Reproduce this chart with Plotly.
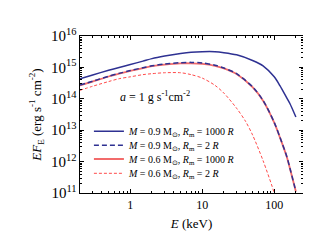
import plotly.graph_objects as go

# Photon energy (keV) sample points
energy = [0.2, 0.3, 0.5, 0.7, 1, 1.5, 2, 3, 5, 7, 10, 15, 20, 30, 50, 70, 100, 120, 150, 165, 200]

# log10(E F_E) values
m09_r1000 = [14.64, 14.76, 14.91, 15.00, 15.09, 15.20, 15.28, 15.36, 15.44, 15.48, 15.50, 15.50, 15.47, 15.40, 15.22, 15.05, 14.70, 14.42, 14.02, 13.85, 13.42]
m09_r2 = [14.44, 14.56, 14.72, 14.81, 14.90, 14.99, 15.05, 15.11, 15.15, 15.16, 15.14, 15.07, 14.98, 14.80, 14.38, 13.95, 13.25, 12.78, 12.15, 11.80, 11.05]
m06_r1000 = [14.43, 14.55, 14.71, 14.80, 14.89, 14.98, 15.04, 15.09, 15.13, 15.13, 15.11, 15.05, 14.97, 14.79, 14.37, 13.94, 13.24, 12.77, 12.14, 11.79, 11.05]
energy_r2 = [0.2, 0.3, 0.5, 0.7, 1, 1.5, 2, 3, 5, 7, 10, 15, 20, 30, 40, 50, 70, 100, 110]
m06_r2 = [14.27, 14.40, 14.55, 14.64, 14.70, 14.77, 14.80, 14.83, 14.83, 14.77, 14.66, 14.43, 14.18, 13.70, 13.28, 12.85, 12.03, 11.00, 10.62]

names = [
    "<i>M</i> = 0.9 M<sub>⊙</sub>, <i>R</i><sub>m</sub> = 1000 <i>R</i>",
    "<i>M</i> = 0.9 M<sub>⊙</sub>, <i>R</i><sub>m</sub> = 2 <i>R</i>",
    "<i>M</i> = 0.6 M<sub>⊙</sub>, <i>R</i><sub>m</sub> = 1000 <i>R</i>",
    "<i>M</i> = 0.6 M<sub>⊙</sub>, <i>R</i><sub>m</sub> = 2 <i>R</i>",
]
xtick_vals = [1, 10, 100]
xtick_text = ["1", "10", "100"]

BLUE = "#2E3192"
RED = "#F26B6B"
REDD = "#FF4A4A"
FONT = "Liberation Serif"

def pw(vals):
    return [10 ** v for v in vals]

fig = go.Figure()
fig.add_trace(go.Scatter(x=energy, y=pw(m06_r1000), mode="lines", name=names[2],
                         line=dict(color=RED, width=1.8, shape="spline", smoothing=0.8), legend="legend3"))
fig.add_trace(go.Scatter(x=energy_r2, y=pw(m06_r2), mode="lines", name=names[3],
                         line=dict(color=REDD, width=1, dash="3px,2px", shape="spline", smoothing=0.8), legend="legend4"))
fig.add_trace(go.Scatter(x=energy, y=pw(m09_r1000), mode="lines", name=names[0],
                         line=dict(color=BLUE, width=1.5, shape="spline", smoothing=0.8), legend="legend"))
fig.add_trace(go.Scatter(x=energy, y=pw(m09_r2), mode="lines", name=names[1],
                         line=dict(color=BLUE, width=1.5, dash="5px,3px", shape="spline", smoothing=0.8), legend="legend2"))

def leg(y):
    return dict(x=0.04, y=y, xanchor="left", yanchor="middle", bgcolor="rgba(0,0,0,0)",
                borderwidth=0, font=dict(family=FONT, size=10, color="black"),
                itemwidth=30, tracegroupgap=0)

axis_common = dict(type="log", showline=True, linecolor="black", linewidth=1.2, mirror="allticks",
                   ticks="inside", ticklen=4, tickcolor="black", showgrid=False, zeroline=False,
                   tickfont=dict(family=FONT, size=12, color="black"))

fig.update_layout(
    width=311, height=246,
    margin=dict(l=72, r=16, t=28, b=61),
    plot_bgcolor="white", paper_bgcolor="white",
    font=dict(family=FONT, color="black"),
    showlegend=True,
    legend=leg(1 - (123.3 - 28) / 157),
    legend2=leg(1 - (137.3 - 28) / 157),
    legend3=leg(1 - (151 - 28) / 157),
    legend4=leg(1 - (165.3 - 28) / 157),
    xaxis=dict(**axis_common, range=[-0.699, 2.4], tickvals=xtick_vals, ticktext=xtick_text,
               minor=dict(ticks="inside", ticklen=2, tickcolor="black", dtick="D1", showgrid=False),
               title=dict(text="<i>E</i> (keV)", font=dict(family=FONT, size=13), standoff=8)),
    yaxis=dict(**axis_common, range=[11, 16], dtick=1, exponentformat="power",
               minor=dict(ticks="inside", ticklen=2, tickcolor="black", dtick="D1", showgrid=False),
               title=dict(text="<i>EF</i><sub>E</sub> (erg s<sup>-1</sup> cm<sup>-2</sup>)",
                          font=dict(family=FONT, size=13), standoff=6)),
    annotations=[dict(text="<i>a</i> = 1 g s<sup>-1</sup>cm<sup>-2</sup>", xref="paper", yref="paper",
                      x=0.336, y=1 - (88 - 28) / 157, showarrow=False,
                      font=dict(family=FONT, size=12, color="black"))],
)

fig.write_html("out.html")
